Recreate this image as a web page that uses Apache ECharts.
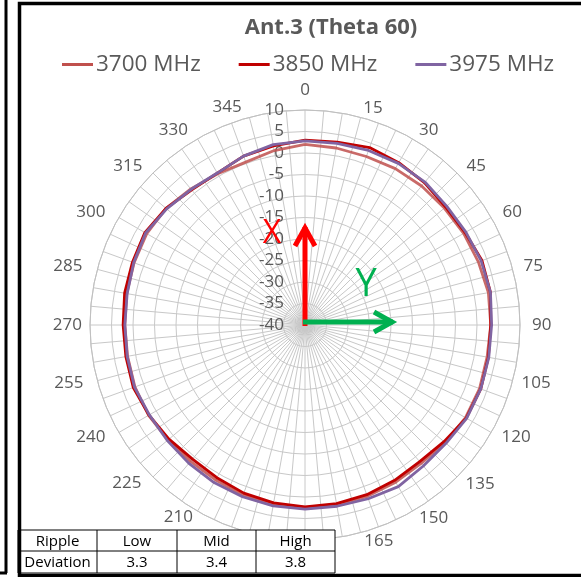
<!DOCTYPE html>
<html>
<head>
<meta charset="utf-8">
<script src="https://cdn.jsdelivr.net/npm/echarts@6/dist/echarts.min.js"></script>
<style>
html,body{margin:0;padding:0;background:#fff;}
#c{width:581px;height:577px;}
</style>
</head>
<body>
<div id="c"></div>
<script>
const angles = [0,10,20,30,40,50,60,70,80,90,100,110,120,130,140,150,160,170,180,190,200,210,220,230,240,250,260,270,280,290,300,310,320,330,340,350];
const s3700 = [2.0,1.8,1.7,2.0,2.2,2.3,2.6,2.9,3.3,3.2,3.0,3.2,3.1,2.5,2.0,2.2,2.4,2.5,2.4,2.3,2.1,1.6,1.4,1.6,2.0,2.1,1.9,1.9,2.1,2.3,2.5,2.2,1.3,0.6,0.3,1.2];
const s3850 = [3.0,3.2,3.9,3.6,3.2,2.7,3.0,3.8,3.8,3.2,3.3,3.5,3.3,2.2,1.5,1.7,2.0,2.2,2.3,2.0,1.6,1.0,0.7,1.3,1.9,2.5,2.3,2.3,2.6,2.7,3.0,2.2,1.0,0.8,1.8,2.3];
const s3975 = [2.8,2.9,3.2,3.4,3.4,3.0,3.2,3.6,3.8,3.4,3.4,3.5,3.4,2.8,2.8,3.4,3.0,2.8,2.8,2.7,2.5,2.3,2.0,1.8,1.8,2.2,2.0,1.9,2.0,2.4,2.8,2.0,1.2,0.8,1.8,2.6];
const seriesNames = ['3700 MHz','3850 MHz','3975 MHz'];
const seriesColors = ['#C0504D','#C00000','#8064A2'];
const tableHeader = ['Ripple','Low','Mid','High'];
const tableRow = ['Deviation','3.3','3.4','3.8'];
const titleText = 'Ant.3 (Theta 60)';
const axisLabelFont = 17;

const FONT = '"Open Sans", "Noto Sans", sans-serif';
function toPts(vals){
  const d = vals.map((v,i)=>[v, angles[i]]);
  d.push([vals[0], 360]);
  return d;
}
const allVals = [s3700, s3850, s3975];

// per-label placement styles (Excel-like corner anchoring)
const labelStyle = {
  0:{padding:[0,0,12.5,0]},
  15:{padding:[0,0,0,22], lineHeight:9},
  30:{padding:[0,0,0,4], lineHeight:9},
  45:{padding:[0,0,0,6], lineHeight:7},
  60:{padding:[0,0,0,7], lineHeight:6},
  75:{padding:[0,0,4,6]},
  90:{padding:[0,0,0,7]},
  105:{padding:[2,0,0,4]},
  120:{padding:[0,0,0,6], lineHeight:4},
  135:{padding:[0,0,0,5], lineHeight:7},
  150:{padding:[0,0,0,4], lineHeight:5},
  165:{padding:[0,0,0,34], lineHeight:7},
  180:{padding:[9.5,0,0,0]},
  195:{padding:[0,34,0,0], lineHeight:7},
  210:{padding:[0,2,0,0], lineHeight:3},
  225:{padding:[0,8,0,0], lineHeight:5},
  240:{padding:[0,9,0,0], lineHeight:4},
  255:{padding:[2,9,0,0]},
  270:{padding:[0,3,0,0]},
  285:{padding:[0,10,4,0]},
  300:{padding:[0,9,0,0], lineHeight:6},
  315:{padding:[0,7,0,0], lineHeight:7},
  330:{padding:[0,7,0,0], lineHeight:9},
  345:{padding:[0,42,0,0], lineHeight:11}
};
const rich = {};
Object.keys(labelStyle).forEach(k=>{
  rich['a'+k] = Object.assign({fontFamily:FONT, fontSize:axisLabelFont, color:'#595959', lineHeight:axisLabelFont}, labelStyle[k]);
});

const chart = echarts.init(document.getElementById('c'), null, {renderer:'canvas'});

// table graphic
const colX = [18, 97, 177, 256, 335];
const rowY = [530, 551, 573];
const tableEls = [];
tableEls.push({type:'rect', shape:{x:colX[0], y:rowY[0], width:colX[4]-colX[0], height:rowY[2]-rowY[0]}, style:{fill:'#fff', stroke:'#000', lineWidth:1}, z:100});
for (let i=1;i<4;i++) tableEls.push({type:'line', shape:{x1:colX[i], y1:rowY[0], x2:colX[i], y2:rowY[2]}, style:{stroke:'#000', lineWidth:1}, z:101});
tableEls.push({type:'line', shape:{x1:colX[0], y1:rowY[1], x2:colX[4], y2:rowY[1]}, style:{stroke:'#000', lineWidth:1}, z:101});
[tableHeader, tableRow].forEach((row, r)=>{
  row.forEach((t, c)=>{
    tableEls.push({type:'text', x:(colX[c]+colX[c+1])/2, y:(rowY[r]+rowY[r+1])/2+1, style:{text:t, font:'15px '+FONT, fill:'#000', align:'center', verticalAlign:'middle'}, z:102});
  });
});

const cx = 305, cy = 325;
const option = {
  backgroundColor:'#fff',
  animation:false,
  title:{text:titleText, left:326, top:12, textAlign:'center', textStyle:{fontFamily:FONT, fontSize:22, fontWeight:'bold', color:'#595959'}},
  legend:{
    data:seriesNames, top:48, left:57, itemWidth:31, itemHeight:3, itemGap:38,
    icon:'rect',
    textStyle:{fontFamily:FONT, fontSize:22.5, color:'#595959', padding:[0,0,0,-2]}
  },
  polar:{center:[cx, cy], radius:215},
  angleAxis:{
    type:'value', min:0, max:360, interval:5, startAngle:90, clockwise:true,
    axisLine:{show:true, lineStyle:{color:'#c0c0c0', width:1}},
    axisTick:{show:false},
    axisLabel:{show:true, margin:5, fontFamily:FONT, fontSize:axisLabelFont, color:'#595959',
      formatter:function(v){ return (v%15===0 && v<360) ? '{a'+v+'|'+v+'}' : ''; },
      rich:rich},
    splitLine:{show:true, lineStyle:{color:'#c8c8c8', width:1}}
  },
  radiusAxis:{
    type:'value', min:-40, max:10, interval:5,
    axisLine:{show:false}, axisTick:{show:false},
    axisLabel:{show:true, fontFamily:FONT, fontSize:axisLabelFont, color:'#595959', margin:21, align:'right'},
    splitLine:{show:true, lineStyle:{color:'#c8c8c8', width:1}}
  },
  series: allVals.map((vals, i)=>({
    type:'line', name:seriesNames[i], coordinateSystem:'polar', data:toPts(vals),
    symbol:'none', smooth:false,
    lineStyle:{color:seriesColors[i], width:2.8, opacity: i===0?0.85:1},
    itemStyle:{color:seriesColors[i]}, z:10+i
  })),
  graphic:[
    // frames
    {type:'line', shape:{x1:6, y1:0, x2:6, y2:573}, style:{stroke:'#000', lineWidth:3}, z:200},
    {type:'line', shape:{x1:0, y1:573, x2:7, y2:573}, style:{stroke:'#000', lineWidth:3}, z:200},
    {type:'rect', shape:{x:19.5, y:3.5, width:600, height:572}, style:{fill:null, stroke:'#000', lineWidth:3.5}, z:200},
    // arrows
    {type:'polyline', shape:{points:[[305,326],[305,227]]}, style:{stroke:'#FF0000', lineWidth:5, fill:null}, z:150},
    {type:'polyline', shape:{points:[[295,246],[305,228],[315,246]]}, style:{stroke:'#FF0000', lineWidth:5, fill:null, lineJoin:'miter'}, z:150},
    {type:'polyline', shape:{points:[[303,322],[393,322]]}, style:{stroke:'#00B050', lineWidth:5, fill:null}, z:151},
    {type:'polyline', shape:{points:[[374,312],[392,322],[374,332]]}, style:{stroke:'#00B050', lineWidth:5, fill:null, lineJoin:'miter'}, z:151},
    {type:'text', x:272, y:234, style:{text:'X', font:'32px '+FONT, fill:'#FF0000', align:'center', verticalAlign:'middle'}, z:152},
    {type:'text', x:366, y:285, style:{text:'Y', font:'38px '+FONT, fill:'#00B050', align:'center', verticalAlign:'middle'}, z:152}
  ].concat(tableEls)
};
chart.setOption(option);
</script>
</body>
</html>
